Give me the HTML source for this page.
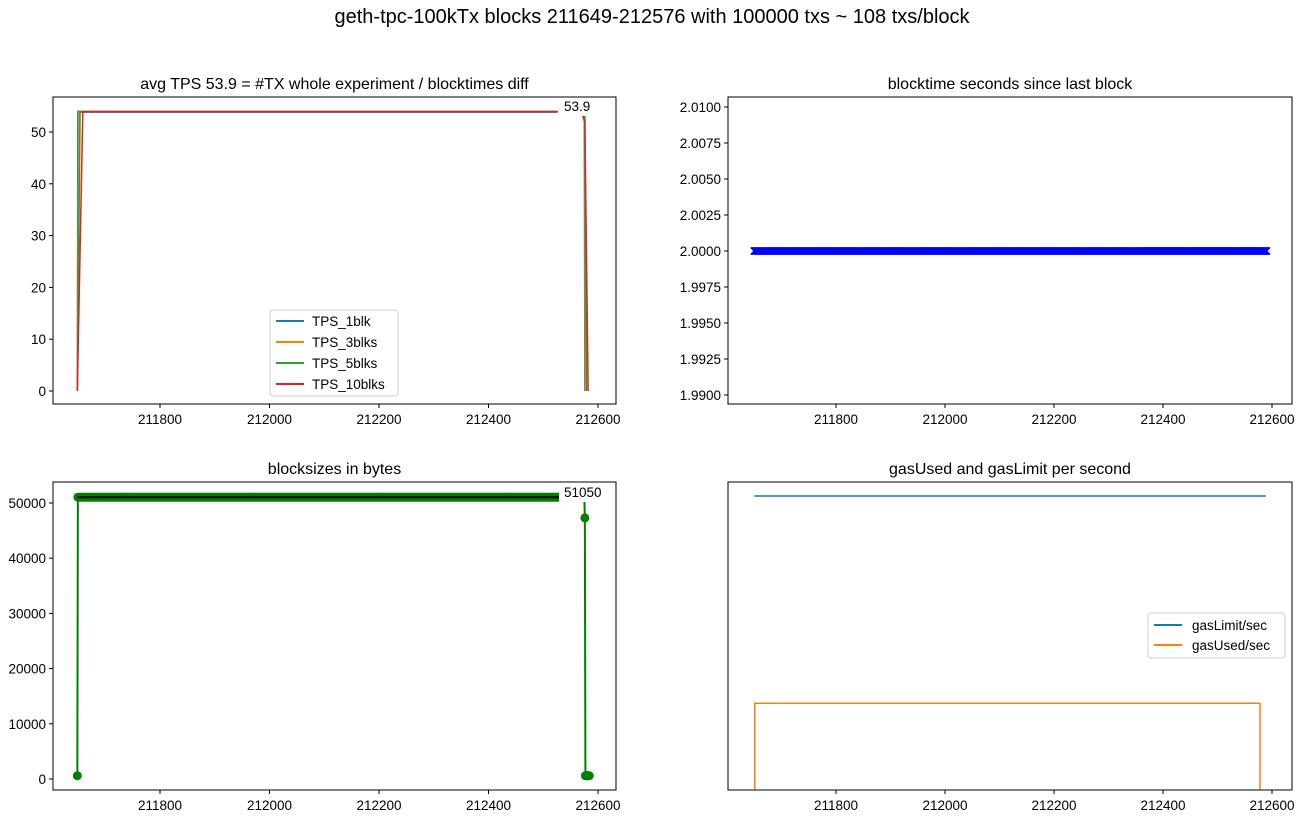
<!DOCTYPE html>
<html><head><meta charset="utf-8"><style>
body{margin:0;background:#fff}
svg{font-family:"Liberation Sans","DejaVu Sans",sans-serif}
</style></head><body>
<svg id="fig" width="1312" height="818" viewBox="0 0 1312 818" xmlns="http://www.w3.org/2000/svg">
<rect width="1312" height="818" fill="#fff"/>
<text x="652" y="23" font-size="20" text-anchor="middle">geth-tpc-100kTx blocks 211649-212576 with 100000 txs ~ 108 txs/block</text>
</svg>
<script>
// ---- data ----
const xTicks = [211800, 212000, 212200, 212400, 212600];
const tpsTicks = [0, 10, 20, 30, 40, 50];
const btTicks = [1.9900, 1.9925, 1.9950, 1.9975, 2.0000, 2.0025, 2.0050, 2.0075, 2.0100];
const sizeTicks = [0, 10000, 20000, 30000, 40000, 50000];
const avgTps = 53.9;
const tps1Blocks = [211649, 211650, 212575, 212576];
const tps1Vals = [0, 53.9, 53.9, 0];
const tps3Blocks = [211649, 211652, 212576, 212577];
const tps3Vals = [0, 53.9, 53.9, 0];
const tps5Blocks = [211649, 211654, 212576, 212579];
const tps5Vals = [0, 53.9, 53.9, 0];
const tps10Blocks = [211649, 211659, 212570, 212576, 212582];
const tps10Vals = [0, 53.9, 53.9, 51.8, 0];
const btStart = 211650, btEnd = 212590, btValue = 2.0;
const sizeSegStart = [211649, 211650, 212576, 212577];
const sizeSegEnd = [211649, 212575, 212576, 212584];
const sizeSegVal = [600, 51050, 47300, 600];
const avgSize = 51050;
const gasBlocks = [211650, 212589];
const gasLimitVals = [1.0, 1.0];
const gasUsedBlocks = [211651, 212578];
const gasUsedVals = [0.295, 0.295];

const NS = "http://www.w3.org/2000/svg";
const svg = document.getElementById('fig');
function el(tag, attrs, parent){const e=document.createElementNS(NS,tag);for(const k in attrs)e.setAttribute(k,attrs[k]);(parent||svg).appendChild(e);return e;}
function txt(s, attrs){const e=el('text',attrs);e.textContent=s;return e;}

function makeAxes(name, L, T, R, B, x0, xppb, y0v, y0px, yppu, title, yTicks, yfmt){
  const g = el('g',{});
  
  
  const X = v => x0 + (v - 211800) * xppb;
  const Y = v => y0px - (v - y0v) * yppu;
  const t = txt(title,{x:(L+R)/2,y:T-8,'font-size':16,'text-anchor':'middle'});
  
  
  xTicks.forEach(v=>{const x=X(v);
    el('line',{x1:x,x2:x,y1:B,y2:B+4,stroke:'#000','stroke-width':1});
    const l=txt(String(v),{x:x,y:B+20,'font-size':13.5,'text-anchor':'middle'});
    
    
  });
  (yTicks||[]).forEach(v=>{const y=Y(v);
    el('line',{x1:L-4,x2:L,y1:y,y2:y,stroke:'#000','stroke-width':1});
    const l=txt(yfmt(v),{x:L-7,y:y+5,'font-size':13.5,'text-anchor':'end'});
    
    
  });
  return {X, Y, frame:()=>el('rect',{x:L,y:T,width:R-L,height:B-T,fill:'none',stroke:'#000','stroke-width':1})};
}
function poly(xs, ys, A, color, w, name){
  const p = el('polyline',{points:xs.map((b,i)=>A.X(b)+','+A.Y(ys[i])).join(' '),fill:'none',stroke:color,'stroke-width':w});
  
  
  return p;
}

// ---- top-left: TPS ----
const a1 = makeAxes('tps-chart',53,97,616,404,160,0.5475,0,391,5.18,'avg TPS 53.9 = #TX whole experiment / blocktimes diff',tpsTicks,v=>String(v));
const avg1 = el('line',{x1:a1.X(211649),x2:a1.X(212525),y1:a1.Y(avgTps),y2:a1.Y(avgTps),stroke:'#000','stroke-width':2});


poly(tps1Blocks,tps1Vals,a1,'#1f77b4',1.5,'tps-1blk-line');
poly(tps3Blocks,tps3Vals,a1,'#ff7f0e',1.5,'tps-3blks-line');
poly(tps5Blocks,tps5Vals,a1,'#2ca02c',1.5,'tps-5blks-line');
poly(tps10Blocks,tps10Vals,a1,'#d62728',1.5,'tps-10blks-line');
el('rect',{x:558,y:96,width:36,height:20,fill:'#fff'});
const lab1 = txt(String(avgTps),{x:564,y:111,'font-size':13.5});


a1.frame();
const leg1 = el('g',{});


el('rect',{x:270,y:310,width:128,height:86,rx:3,fill:'#fff',stroke:'#ccc'},leg1);
[['TPS_1blk','#1f77b4'],['TPS_3blks','#ff7f0e'],['TPS_5blks','#2ca02c'],['TPS_10blks','#d62728']].forEach((e,i)=>{
  const y=321+i*21;
  el('line',{x1:276,x2:304,y1:y,y2:y,stroke:e[1],'stroke-width':2},leg1);
  const t=el('text',{x:312,y:y+5,'font-size':13.5},leg1); t.textContent=e[0];
  
  
});

// ---- top-right: blocktime ----
const a2 = makeAxes('blocktime-chart',728,97,1292,404,836,0.545,2.0,251,14400,'blocktime seconds since last block',btTicks,v=>v.toFixed(4));
let bx='';
for(let b=btStart;b<=btEnd;b++){const x=a2.X(b),y=a2.Y(btValue);bx+=`M${x-3.5},${y-3.5}L${x+3.5},${y+3.5}M${x-3.5},${y+3.5}L${x+3.5},${y-3.5}`;}
const btp = el('path',{d:bx,stroke:'#0000ff','stroke-width':1.5,fill:'none'});


a2.frame();

// ---- bottom-left: blocksizes ----
const a3 = makeAxes('blocksize-chart',53,482,616,790,160,0.5475,0,779,0.00552,'blocksizes in bytes',sizeTicks,v=>String(v));
const sx=[], sy=[];
sizeSegStart.forEach((s,i)=>{for(let b=s;b<=sizeSegEnd[i];b++){sx.push(b);sy.push(sizeSegVal[i]);}});
poly(sx,sy,a3,'#008000',2,'blocksize-line');
let md='';
sx.forEach((b,i)=>{const x=a3.X(b),y=a3.Y(sy[i]);md+=`M${x-4.5},${y}a4.5,4.5 0 1,0 9,0a4.5,4.5 0 1,0 -9,0`;});
const mk = el('path',{d:md,fill:'#008000'});


const avg3 = el('line',{x1:a3.X(211649),x2:a3.X(212530),y1:a3.Y(avgSize),y2:a3.Y(avgSize),stroke:'#000','stroke-width':2});


el('rect',{x:559,y:480,width:50,height:22,fill:'#fff'});
const lab3 = txt(String(avgSize),{x:564,y:497,'font-size':13.5});


a3.frame();

// ---- bottom-right: gas ----
const a4 = makeAxes('gas-chart',728,482,1292,790,836,0.545,0,790,0,'gasUsed and gasLimit per second',[],v=>'');
const GY = v => 790 - v*294;
const gl = el('polyline',{points:gasBlocks.map((b,i)=>a4.X(b)+','+GY(gasLimitVals[i])).join(' '),fill:'none',stroke:'#1f77b4','stroke-width':1.5});


const gu = el('polyline',{points:[a4.X(gasUsedBlocks[0])+',790'].concat(gasUsedBlocks.map((b,i)=>a4.X(b)+','+GY(gasUsedVals[i]))).concat([a4.X(gasUsedBlocks[gasUsedBlocks.length-1])+',790']).join(' '),fill:'none',stroke:'#ff7f0e','stroke-width':1.5});


a4.frame();
const leg4 = el('g',{});


el('rect',{x:1148,y:613,width:137,height:45,rx:3,fill:'#fff',stroke:'#ccc'},leg4);
[['gasLimit/sec','#1f77b4'],['gasUsed/sec','#ff7f0e']].forEach((e,i)=>{
  const y=625+i*20;
  el('line',{x1:1154,x2:1182,y1:y,y2:y,stroke:e[1],'stroke-width':2},leg4);
  const t=el('text',{x:1192,y:y+5,'font-size':13.5},leg4); t.textContent=e[0];
  
  
});
</script>
</body></html>
